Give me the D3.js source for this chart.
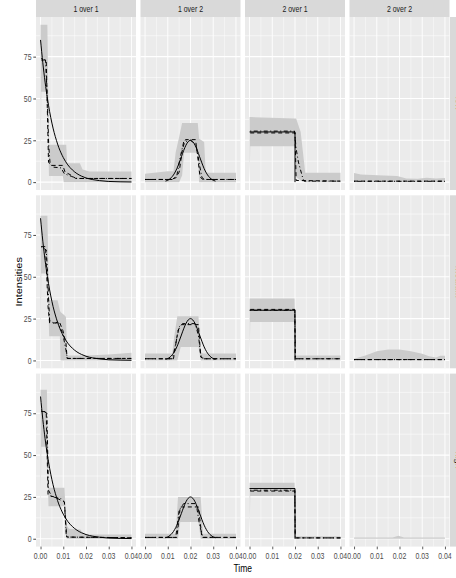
<!DOCTYPE html>
<html><head><meta charset="utf-8">
<script src="https://cdnjs.cloudflare.com/ajax/libs/d3/7.8.5/d3.min.js"></script>
<style>html,body{margin:0;padding:0;background:#fff}svg{display:block}</style>
</head><body><svg id="c" width="456" height="578"></svg>
<script>
// ---------- labels / ticks ----------
const columns = ["1 over 1","1 over 2","2 over 1","2 over 2"];
const rows = ["low","medium","high"];
const xTicks = [0,0.01,0.02,0.03,0.04];
const xTickLabels = ["0.00","0.01","0.02","0.03","0.04"];
const xMinor = [0.005,0.015,0.025,0.035];
const yTicks = [0,25,50,75];
const yTickLabels = ["0","25","50","75"];
const yMinor = [12.5,37.5,62.5,87.5];

// ---------- true signals (solid) ----------
const trueExp = [[0,85],[0.001,71.3],[0.002,59.8],[0.003,50.2],[0.004,42.1],[0.005,35.3],[0.006,29.6],[0.007,24.9],[0.008,20.8],[0.009,17.5],[0.010,14.7],[0.012,10.3],[0.014,7.3],[0.016,5.1],[0.018,3.6],[0.020,2.5],[0.023,1.5],[0.026,0.9],[0.030,0.4],[0.035,0.2],[0.040,0.1]];
const trueGauss = [[0.009,0.6],[0.010,1.1],[0.011,2.0],[0.012,3.4],[0.013,5.4],[0.014,8.1],[0.015,11.5],[0.016,15.2],[0.017,18.9],[0.018,22.1],[0.019,24.2],[0.020,25.0],[0.021,24.2],[0.022,22.1],[0.023,18.9],[0.024,15.2],[0.025,11.5],[0.026,8.1],[0.027,5.4],[0.028,3.4],[0.029,2.0],[0.030,1.1],[0.031,0.6]];
const trueBox = [[0,30],[0.02,30],[0.02,0]];

// ---------- ribbons [t, low, high], dashed and dot-dash estimates [t, v] ----------
const ribbon_r1c1 = [[0,0,94],[0.0003,54,94],[0.003,54,94],[0.0037,3.6,22.4],[0.0098,3.6,22.4],[0.0102,0,22.4],[0.0113,0,22.4],[0.0117,0,11.3],[0.0173,0,11.3],[0.0185,0,7.5],[0.0215,0,6.4],[0.04,0,6.4]];
const dashed_r1c1 = [[0.0003,73],[0.0025,73],[0.0035,12],[0.0045,10],[0.0098,10],[0.0108,6],[0.013,4.5],[0.0155,2.2],[0.04,2.2]];
const dotdash_r1c1 = [[0.0003,74],[0.0022,73],[0.003,48],[0.0036,22],[0.0042,11],[0.0055,9],[0.009,8.5],[0.0105,5],[0.0135,3.5],[0.016,2.2],[0.04,2.2]];

const ribbon_r2c1 = [[0,0,86.5],[0.0003,52,86.5],[0.003,52,86.5],[0.0038,14.5,36],[0.0075,14.5,36],[0.0085,14.5,30],[0.0088,0,29],[0.0105,0,27],[0.0112,0,26],[0.0117,0,3],[0.02,0,3],[0.03,0,3.6],[0.04,0,4.6]];
const dashed_r2c1 = [[0.0003,68],[0.0022,68],[0.0033,32],[0.004,22.4],[0.0085,22.4],[0.0098,18],[0.0112,10],[0.0117,1.2],[0.04,1.2]];
const dotdash_r2c1 = [[0.0003,68],[0.0025,66],[0.003,55],[0.0035,38],[0.004,24],[0.006,22],[0.0075,23],[0.0085,20],[0.0098,16],[0.0112,6],[0.0118,1.2],[0.04,1.2]];

const ribbon_r3c1 = [[0,0,89],[0.0003,55,89],[0.0028,55,89],[0.0035,19.4,30.4],[0.0105,19.4,30.4],[0.0115,0,8],[0.0125,0,6],[0.0175,0,5.5],[0.019,0,2.5],[0.04,0,2.5]];
const dashed_r3c1 = [[0.0003,76],[0.0025,76],[0.0033,26],[0.006,25],[0.0105,22],[0.0115,1],[0.04,0.6]];
const dotdash_r3c1 = [[0.0003,77],[0.0028,75],[0.0035,29],[0.005,25],[0.009,24],[0.0105,22],[0.0113,2],[0.012,1],[0.04,0.6]];

const ribbon_r1c2 = [[0,0,5],[0.01,0,6.5],[0.0125,0,6.5],[0.0135,0,18],[0.015,0,27],[0.0163,4,35.3],[0.0172,17.5,35.3],[0.0232,17.5,35.3],[0.0238,0,26],[0.026,0,24],[0.0267,0,5.6],[0.04,0,5.6]];
const dashed_r1c2 = [[0,1.6],[0.011,1.6],[0.0135,2.5],[0.015,6],[0.0165,20],[0.0178,25.4],[0.0222,25.4],[0.0232,15],[0.0242,3],[0.0255,1.6],[0.04,1.6]];
const dotdash_r1c2 = [[0,1.6],[0.012,1.6],[0.014,4],[0.0155,15],[0.017,24],[0.02,25],[0.0225,22],[0.024,10],[0.025,3],[0.026,1.6],[0.04,1.6]];

const ribbon_r2c2 = [[0,0,4.2],[0.012,0,4.2],[0.0128,0,14],[0.0142,0,26.4],[0.0157,8,26.4],[0.0235,8,26.4],[0.0245,0,5],[0.0255,0,4.2],[0.04,0,4.2]];
const dashed_r2c2 = [[0,1],[0.0125,1],[0.0145,18],[0.016,21.4],[0.0235,21.4],[0.0245,2],[0.026,1],[0.04,1]];
const dotdash_r2c2 = [[0,1],[0.012,1],[0.0135,10],[0.015,20],[0.0165,22],[0.022,22],[0.0235,15],[0.0245,3],[0.026,1],[0.04,1]];

const ribbon_r3c2 = [[0,0,3],[0.0135,0,3],[0.0145,0,25],[0.0155,10,25],[0.0235,10,25],[0.0245,0,25],[0.0255,0,3],[0.04,0,3]];
const dashed_r3c2 = [[0,0.8],[0.014,0.8],[0.0155,19],[0.0235,19],[0.025,0.8],[0.04,0.8]];
const dotdash_r3c2 = [[0,0.8],[0.0135,0.8],[0.015,17],[0.017,21],[0.0225,21],[0.024,8],[0.0255,0.8],[0.04,0.8]];

const ribbon_r1c3 = [[0,0,38.9],[0.0003,21.4,38.9],[0.02,21.4,38],[0.0205,3,38],[0.0225,1,30],[0.0245,0,5.6],[0.04,0,5.6]];
const dashed_r1c3 = [[0.0003,29.4],[0.02,29.4],[0.0205,1],[0.04,0.6]];
const dotdash_r1c3 = [[0.0003,30.5],[0.0198,30.5],[0.0205,20],[0.0215,12],[0.0235,2],[0.024,0.6],[0.04,0.6]];

const ribbon_r2c3 = [[0,0,37],[0.0003,23,37],[0.0198,23,37],[0.0202,0,3],[0.04,0,3]];
const dashed_r2c3 = [[0.0003,30.5],[0.0199,30.5],[0.0201,1],[0.04,1]];
const dotdash_r2c3 = [[0.0003,30],[0.0199,30],[0.0202,1],[0.04,1]];

const ribbon_r3c3 = [[0,0,33.5],[0.0003,25.5,33.5],[0.0198,25.5,33.5],[0.0202,0,1.5],[0.04,0,1.5]];
const dashed_r3c3 = [[0.0003,28.5],[0.0199,28.5],[0.0201,0.5],[0.04,0.5]];
const dotdash_r3c3 = [[0.0003,29],[0.0199,29],[0.0201,0.5],[0.04,0.5]];

const ribbon_r1c4 = [[0,0,5.5],[0.003,0,4.6],[0.013,0,4],[0.019,0,3.6],[0.023,0,2.2],[0.028,0,2],[0.032,0,2.6],[0.036,0,2.2],[0.04,0,2.4]];
const dashed_r1c4 = [[0,0.6],[0.04,0.6]];
const dotdash_r1c4 = [[0,0.5],[0.04,0.5]];

const ribbon_r2c4 = [[0,0,1],[0.005,0,3],[0.01,0,5.5],[0.015,0,6.5],[0.02,0,6.5],[0.025,0,5.5],[0.03,0,4],[0.033,0,2.5],[0.036,0,1.8],[0.038,0,2.8],[0.04,0,2.8]];
const dashed_r2c4 = [[0,0.5],[0.04,0.5]];
const dotdash_r2c4 = [[0,0.5],[0.04,0.5]];

const ribbon_r3c4 = [[0,0,0.8],[0.017,0,0.8],[0.0195,0,1.8],[0.022,0,0.8],[0.04,0,0.8]];
const dashed_r3c4 = [];
const dotdash_r3c4 = [];

// ---------- panel table built from the arrays ----------
const truthByCol = [trueExp, trueGauss, trueBox, []];
const panels = [
  [ribbon_r1c1,dashed_r1c1,dotdash_r1c1],[ribbon_r1c2,dashed_r1c2,dotdash_r1c2],[ribbon_r1c3,dashed_r1c3,dotdash_r1c3],[ribbon_r1c4,dashed_r1c4,dotdash_r1c4],
  [ribbon_r2c1,dashed_r2c1,dotdash_r2c1],[ribbon_r2c2,dashed_r2c2,dotdash_r2c2],[ribbon_r2c3,dashed_r2c3,dotdash_r2c3],[ribbon_r2c4,dashed_r2c4,dotdash_r2c4],
  [ribbon_r3c1,dashed_r3c1,dotdash_r3c1],[ribbon_r3c2,dashed_r3c2,dotdash_r3c2],[ribbon_r3c3,dashed_r3c3,dotdash_r3c3],[ribbon_r3c4,dashed_r3c4,dotdash_r3c4]
].map((p,i)=>({row:Math.floor(i/4), col:i%4, ribbon:p[0], dashed:p[1], dotdash:p[2], truth:truthByCol[i%4]}));

// ---------- layout ----------
const SQ = 0.77;            // horizontal squeeze of text
const FONT = "Liberation Sans, Arial, Helvetica, sans-serif";
const panelX = [36,140.5,245,349.5], panelW = 100;
const panelY = [17,195.3,373.6], panelH = 173;
const stripH = 17;
const yMax = d3.max(panels, p=>d3.max(p.ribbon, d=>d[2]));
const yDom = [0 - yMax*0.05, yMax*1.05];
const xDom = [0 - 0.04*0.05, 0.04*1.05];

const svg = d3.select("#c");
svg.append("rect").attr("width",456).attr("height",578).attr("fill","#fff");

function txt(g, x, y, s, size, anchor, fill, rot){
  return g.append("text")
    .attr("transform", `translate(${x},${y}) scale(${SQ},1)` + (rot? ` rotate(${rot})`:""))
    .attr("text-anchor", anchor).attr("font-family", FONT).attr("font-size", size)
    .attr("fill", fill).text(s);
}

panels.forEach(p=>{
  const x0 = panelX[p.col], y0 = panelY[p.row];
  const x = d3.scaleLinear().domain(xDom).range([x0, x0+panelW]);
  const y = d3.scaleLinear().domain(yDom).range([y0+panelH, y0]);
  const g = svg.append("g");
  g.append("rect").attr("x",x0).attr("y",y0).attr("width",panelW).attr("height",panelH).attr("fill","#EBEBEB");
  // grid
  xMinor.forEach(t=>g.append("line").attr("x1",x(t)).attr("x2",x(t)).attr("y1",y0).attr("y2",y0+panelH).attr("stroke","#fff").attr("stroke-width",0.45));
  yMinor.forEach(v=>g.append("line").attr("x1",x0).attr("x2",x0+panelW).attr("y1",y(v)).attr("y2",y(v)).attr("stroke","#fff").attr("stroke-width",0.55));
  xTicks.forEach(t=>g.append("line").attr("x1",x(t)).attr("x2",x(t)).attr("y1",y0).attr("y2",y0+panelH).attr("stroke","#fff").attr("stroke-width",0.9));
  yTicks.forEach(v=>g.append("line").attr("x1",x0).attr("x2",x0+panelW).attr("y1",y(v)).attr("y2",y(v)).attr("stroke","#fff").attr("stroke-width",1.1));
  // ribbon
  const area = d3.area().x(d=>x(d[0])).y0(d=>y(d[1])).y1(d=>y(d[2]));
  g.append("path").attr("d",area(p.ribbon)).attr("fill","#cbcbcb");
  // truth
  if (p.truth.length){
    const ln = d3.line().x(d=>x(d[0])).y(d=>y(d[1])).curve(p.col===2? d3.curveLinear : d3.curveMonotoneX);
    g.append("path").attr("d",ln(p.truth)).attr("fill","none").attr("stroke","#000").attr("stroke-width",1);
  }
  const lin = d3.line().x(d=>x(d[0])).y(d=>y(d[1]));
  if (p.dashed.length) g.append("path").attr("d",lin(p.dashed)).attr("fill","none").attr("stroke","#000").attr("stroke-width",1).attr("stroke-dasharray","4,3");
  if (p.dotdash.length) g.append("path").attr("d",lin(p.dotdash)).attr("fill","none").attr("stroke","#000").attr("stroke-width",1).attr("stroke-dasharray","1,2.5,4,2.5");

  // axes
  if (p.col===0){
    const ax = svg.append("g").attr("transform",`translate(${x0},0)`).call(d3.axisLeft(y).tickValues(yTicks).tickSize(2.7).tickFormat(""));
    ax.select(".domain").remove();
    ax.selectAll("line").attr("stroke","#333333").attr("stroke-width",0.9);
    yTicks.forEach((v,i)=>txt(svg, x0-4.5, y(v)+3.2, yTickLabels[i], 9, "end", "#4D4D4D"));
  }
  if (p.row===2){
    const ax = svg.append("g").attr("transform",`translate(0,${y0+panelH})`).call(d3.axisBottom(x).tickValues(xTicks).tickSize(2.7).tickFormat(""));
    ax.select(".domain").remove();
    ax.selectAll("line").attr("stroke","#333333").attr("stroke-width",0.8);
    xTicks.forEach((t,i)=>txt(svg, x(t), 558.5, xTickLabels[i], 9, "middle", "#4D4D4D"));
  }
});

// column strips
columns.forEach((c,i)=>{
  svg.append("rect").attr("x",panelX[i]).attr("y",0).attr("width",panelW).attr("height",stripH).attr("fill","#D9D9D9");
  txt(svg, panelX[i]+panelW/2, 11.8, c, 9, "middle", "#1A1A1A");
});
// row strips
rows.forEach((r,i)=>{
  svg.append("rect").attr("x",450).attr("y",panelY[i]).attr("width",20).attr("height",panelH).attr("fill","#D9D9D9");
  txt(svg, 458.5, panelY[i]+panelH/2, r, 9, "middle", "#1A1A1A", 90).attr("dominant-baseline","central");
});

// axis titles
txt(svg, (panelX[0]+panelX[3]+panelW)/2, 571.5, "Time", 11, "middle", "#000");
txt(svg, 21.5, (panelY[0]+panelY[2]+panelH)/2, "Intensities", 11, "middle", "#000", -90);
</script></body></html>
